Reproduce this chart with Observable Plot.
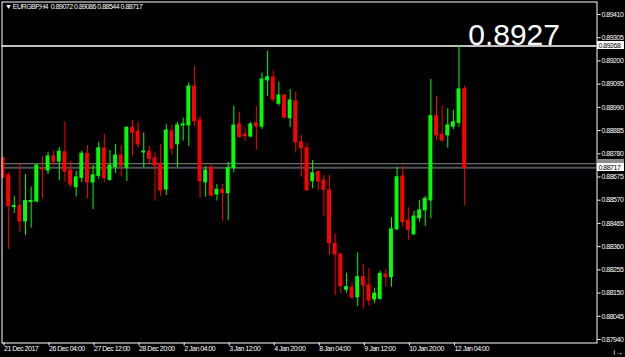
<!DOCTYPE html>
<html><head><meta charset="utf-8">
<script src="https://cdn.jsdelivr.net/npm/d3@7"></script>
<script src="https://cdn.jsdelivr.net/npm/@observablehq/plot@0.6"></script>
<style>
html,body{margin:0;padding:0;background:#000;overflow:hidden}
svg text{white-space:pre;letter-spacing:-0.5px}
svg g[font-size="30"] text{letter-spacing:0}
</style></head><body>
<script>
const titleText = "\u25BC EURGBP,H4  0.89072 0.89086 0.88544 0.88717";

const opens = [0.88759,0.88682,0.88539,0.88543,0.88474,0.88562,0.88564,0.88713,0.88704,0.88768,
0.88745,0.88787,0.88704,0.88629,0.88671,0.88780,0.88650,0.88680,0.88804,0.88662,
0.88719,0.88772,0.88717,0.88898,0.88881,0.88786,0.88790,0.88759,0.88732,0.88618,
0.88881,0.88823,0.88908,0.88908,0.89084,0.88931,0.88651,0.88717,0.88596,0.88617,
0.88602,0.88715,0.88913,0.88866,0.88858,0.88918,0.88903,0.89112,0.89124,0.89006,
0.89044,0.88941,0.89017,0.88832,0.88805,0.88656,0.88697,0.88659,0.88614,0.88373,
0.88325,0.88165,0.88174,0.88131,0.88222,0.88184,0.88121,0.88124,0.88234,0.88222,
0.88438,0.88677,0.88478,0.88415,0.88489,0.88524,0.88569,0.88950,0.88866,0.88863,
0.88903,0.88920,0.89072];

const highs = [0.88763,0.88695,0.88587,0.88737,0.88686,0.88629,0.88729,0.88769,0.88787,0.88792,
0.88808,0.88923,0.88745,0.88701,0.88792,0.88817,0.88727,0.88831,0.88867,0.88795,
0.88822,0.88817,0.88900,0.88931,0.88922,0.88875,0.88813,0.88784,0.88822,0.88911,
0.88908,0.88922,0.88941,0.89101,0.89175,0.88949,0.88723,0.88732,0.88641,0.88641,
0.88741,0.88995,0.88968,0.88898,0.88923,0.88995,0.89146,0.89243,0.89154,0.89104,
0.89046,0.89071,0.89059,0.88863,0.88828,0.88750,0.88704,0.88682,0.88682,0.88418,
0.88327,0.88240,0.88196,0.88332,0.88279,0.88260,0.88172,0.88249,0.88257,0.88491,
0.88719,0.88723,0.88536,0.88520,0.88569,0.88587,0.89116,0.89039,0.88994,0.88984,
0.88976,0.89268,0.89086];

const lows = [0.88668,0.88347,0.88510,0.88425,0.88410,0.88444,0.88560,0.88576,0.88686,0.88723,
0.88659,0.88650,0.88628,0.88585,0.88649,0.88576,0.88528,0.88665,0.88651,0.88655,
0.88691,0.88677,0.88655,0.88770,0.88805,0.88716,0.88736,0.88566,0.88587,0.88591,
0.88775,0.88718,0.88837,0.88813,0.88903,0.88579,0.88584,0.88584,0.88566,0.88475,
0.88478,0.88694,0.88852,0.88837,0.88852,0.88795,0.88890,0.89039,0.89013,0.88995,
0.88942,0.88898,0.88783,0.88674,0.88612,0.88622,0.88614,0.88498,0.88320,0.88139,
0.88147,0.88149,0.88121,0.88089,0.88079,0.88089,0.88104,0.88116,0.88177,0.88177,
0.88433,0.88448,0.88388,0.88413,0.88471,0.88451,0.88486,0.88840,0.88832,0.88805,
0.88889,0.88898,0.88544];

const closes = [0.88673,0.88542,0.88544,0.88474,0.88566,0.88567,0.88727,0.88709,0.88768,0.88744,
0.88790,0.88700,0.88640,0.88673,0.88780,0.88651,0.88683,0.88805,0.88670,0.88726,
0.88772,0.88723,0.88898,0.88875,0.88822,0.88790,0.88757,0.88727,0.88614,0.88885,
0.88803,0.88908,0.88913,0.89084,0.88927,0.88656,0.88704,0.88591,0.88617,0.88602,
0.88715,0.88908,0.88855,0.88860,0.88913,0.88903,0.89116,0.89126,0.89026,0.89044,
0.88943,0.89021,0.88832,0.88805,0.88614,0.88692,0.88655,0.88617,0.88376,0.88325,
0.88181,0.88177,0.88131,0.88222,0.88184,0.88116,0.88147,0.88237,0.88222,0.88438,
0.88674,0.88471,0.88436,0.88496,0.88524,0.88576,0.88950,0.88863,0.88840,0.88908,
0.88922,0.89071,0.88717];

const yTicks = [0.87940,0.88045,0.88150,0.88255,0.88360,0.88465,0.88570,0.88675,
0.88780,0.88885,0.88990,0.89095,0.89200,0.89305,0.89410];

const xLabelBars = [0,8,16,24,32,40,48,56,64,72,80];
const xLabels = ["21 Dec 2017","26 Dec 04:00","27 Dec 12:00","28 Dec 20:00","2 Jan 04:00",
"3 Jan 12:00","4 Jan 20:00","8 Jan 04:00","9 Jan 12:00","10 Jan 20:00","12 Jan 04:00"];

const lineLevel = 0.89268;
const askLevel = 0.88735;
const bidLevel = 0.88717;

const bars = opens.map((o, i) => ({i, o, h: highs[i], l: lows[i], c: closes[i]}));
const colorOf = d => d.c >= d.o ? "#00ff00" : "#ff0000";
const W = 625, H = 357, mR = 28.5;

const plot = Plot.plot({
  width: W, height: H,
  marginLeft: 1.5, marginRight: mR, marginTop: 1.5, marginBottom: 14.5,
  style: {background: "#000", color: "#fff", fontFamily: "'Liberation Sans', Arial, sans-serif", fontSize: "7px", overflow: "visible"},
  x: {type: "linear", domain: [-0.1776, 105.506], axis: null},
  y: {domain: [0.879242, 0.894665], axis: null},
  marks: [
    Plot.ruleY([askLevel], {stroke: "#8c8c8c", strokeWidth: 1}),
    Plot.ruleY([bidLevel], {stroke: "#4b535d", strokeWidth: 2}),
    Plot.ruleY([lineLevel], {stroke: "#ffffff", strokeWidth: 1.5}),
    Plot.ruleX(bars, {x: "i", y1: "l", y2: "h", stroke: colorOf, strokeWidth: 1, clip: true}),
    Plot.rect(bars, {x1: d => d.i - 0.35, x2: d => d.i + 0.35, y1: "o", y2: "c", fill: colorOf, insetTop: -0.5, insetBottom: -0.5, clip: true}),
    Plot.axisY(yTicks, {anchor: "right", tickSize: 3, tickPadding: 1.5, tickFormat: d3.format(".5f"), stroke: "#fff", fill: "#fff"}),
    Plot.axisX(xLabelBars, {anchor: "bottom", tickSize: 3, tickPadding: 0, tickFormat: d => xLabels[xLabelBars.indexOf(d)], textAnchor: "start", dx: 1, stroke: "#fff", fill: "#fff"}),
    Plot.frame({stroke: "#fff"}),
    Plot.text([titleText], {frameAnchor: "top-left", dx: 3, dy: 2.5, text: d => d, textAnchor: "start", lineAnchor: "top", fill: "#fff"}),
    Plot.text([lineLevel], {y: d => d, text: d => d.toFixed(4), frameAnchor: "right", dx: -37, dy: -1, textAnchor: "end", lineAnchor: "bottom", fontSize: 30, fill: "#fff"})
  ]
});

document.body.appendChild(plot);

// price label boxes on the right axis, positioned through Plot's y scale
const ys = plot.scale("y");
const svg = d3.select(plot);
const boxes = [
  {v: askLevel, bg: "#8c8c8c", label: false},
  {v: bidLevel, bg: "#ffffff", label: true},
  {v: lineLevel, bg: "#ffffff", label: true}
];
const x0 = W - mR;
boxes.forEach(b => {
  const y = Math.round(ys.apply(b.v));
  const g = svg.append("g");
  g.append("rect").attr("x", x0 + 0.5).attr("y", y - 4).attr("width", 27).attr("height", 8).attr("fill", b.bg);
  if (b.label) {
    g.append("text").attr("x", x0 + 2).attr("y", y + 2.6).attr("fill", "#000")
      .attr("text-anchor", "start").attr("font-size", 7).text(b.v.toFixed(5));
  }
});
</script>
</body></html>
